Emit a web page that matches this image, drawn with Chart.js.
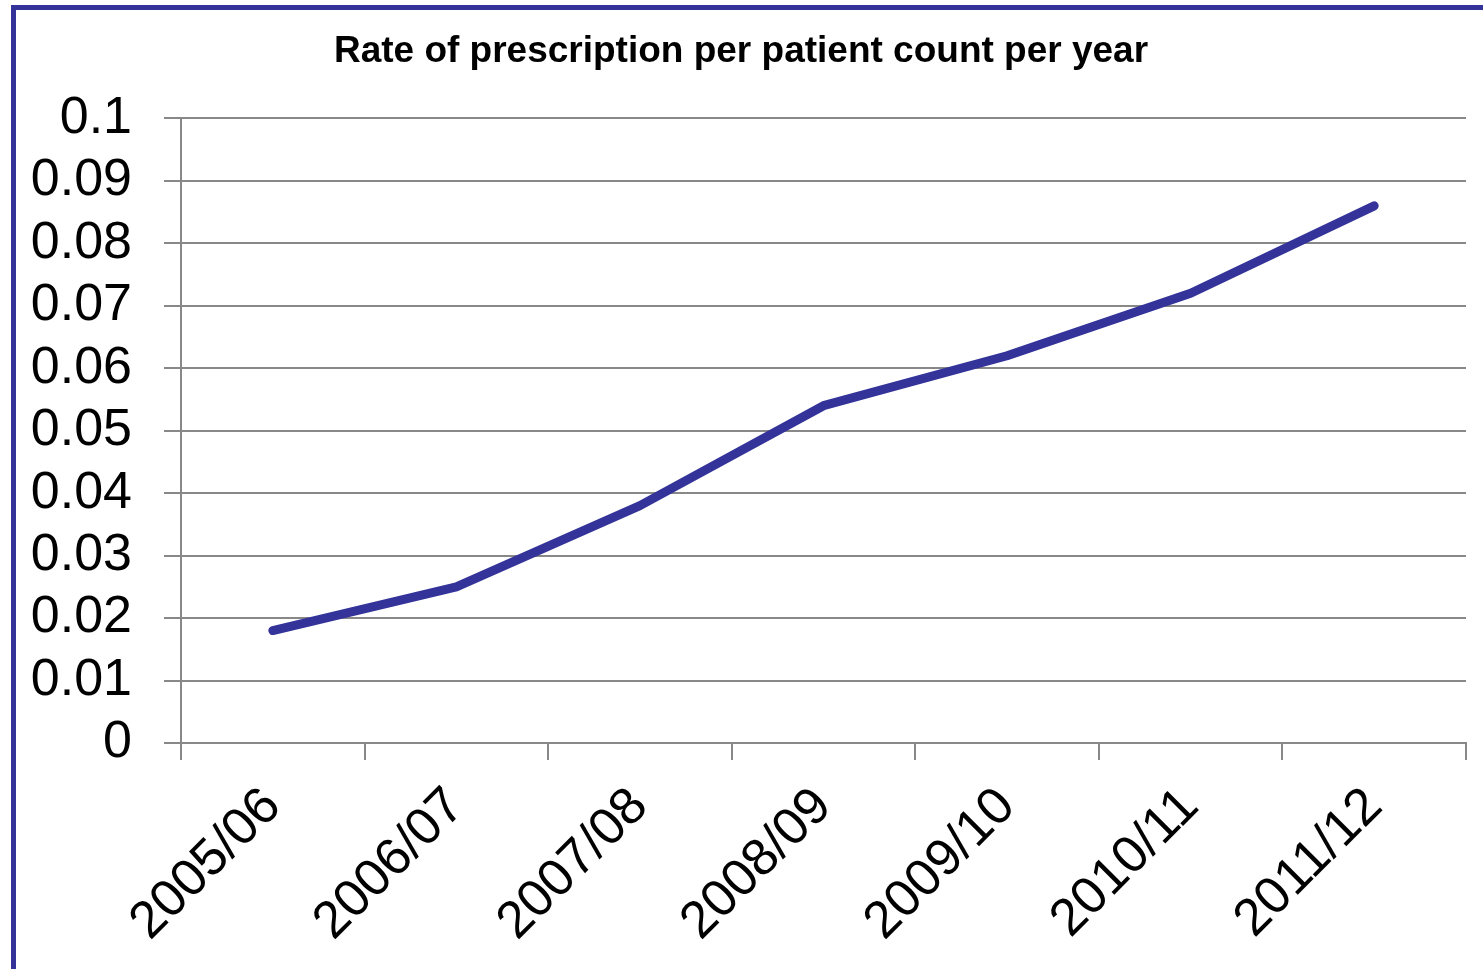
<!DOCTYPE html>
<html>
<head>
<meta charset="utf-8">
<script src="https://cdn.jsdelivr.net/npm/chart.js@4/dist/chart.umd.min.js"></script>
<style>
  html, body { margin: 0; padding: 0; background: #fff; overflow: hidden; }
  #frame {
    position: absolute; left: 11px; top: 5px;
    width: 1472px; height: 964px;
    border-left: 5px solid #333399; border-top: 5px solid #333399;
  }
  #wrap { position: absolute; left: 0; top: 0; width: 1467px; height: 959px; }
</style>
</head>
<body>
<div id="frame"><div id="wrap"><canvas id="rate-chart"></canvas></div></div>
<script>
const years = ['2005/06', '2006/07', '2007/08', '2008/09', '2009/10', '2010/11', '2011/12'];
const rates = [0.018, 0.025, 0.038, 0.054, 0.062, 0.072, 0.086];
const chartTitle = 'Rate of prescription per patient count per year';

const FONT = '"Liberation Sans", Arial, sans-serif';
const GRID = '#888888';

new Chart(document.getElementById('rate-chart').getContext('2d'), {
    type: 'line',
    data: {
        labels: years,
        datasets: [{
            data: rates,
            borderColor: '#333399',
            borderWidth: 9,
            borderCapStyle: 'round',
            borderJoinStyle: 'round',
            pointRadius: 0,
            tension: 0,
            fill: false
        }]
    },
    options: {
        responsive: true,
        maintainAspectRatio: false,
        animation: false,
        layout: { padding: { left: 0, right: 17, bottom: 0, top: 0 } },
        plugins: {
            legend: { display: false },
            tooltip: { enabled: false },
            title: {
                display: true,
                text: chartTitle,
                color: '#000',
                font: { family: FONT, size: 37, weight: 'bold' },
                padding: { top: 20, bottom: 44 }
            }
        },
        scales: {
            x: {
                offset: true,
                grid: {
                    offset: true,
                    drawOnChartArea: false,
                    drawTicks: true,
                    tickLength: 17,
                    color: GRID,
                    lineWidth: 2
                },
                border: { display: true, color: GRID, width: 2 },
                ticks: {
                    color: '#000',
                    font: { family: FONT, size: 52 },
                    minRotation: 45,
                    maxRotation: 45,
                    padding: 16,
                    autoSkip: false
                },
                afterFit: (scale) => { scale.height = 226; }
            },
            y: {
                min: 0,
                max: 0.1,
                ticks: {
                    stepSize: 0.01,
                    autoSkip: false,
                    color: '#000',
                    font: { family: FONT, size: 52 },
                    padding: 32,
                    callback: (v) => String(+v.toFixed(2))
                },
                grid: {
                    color: GRID,
                    lineWidth: 2,
                    tickLength: 17
                },
                border: { display: true, color: GRID, width: 2 },
                afterFit: (scale) => { scale.width = 165; }
            }
        }
    }
});
</script>
</body>
</html>
